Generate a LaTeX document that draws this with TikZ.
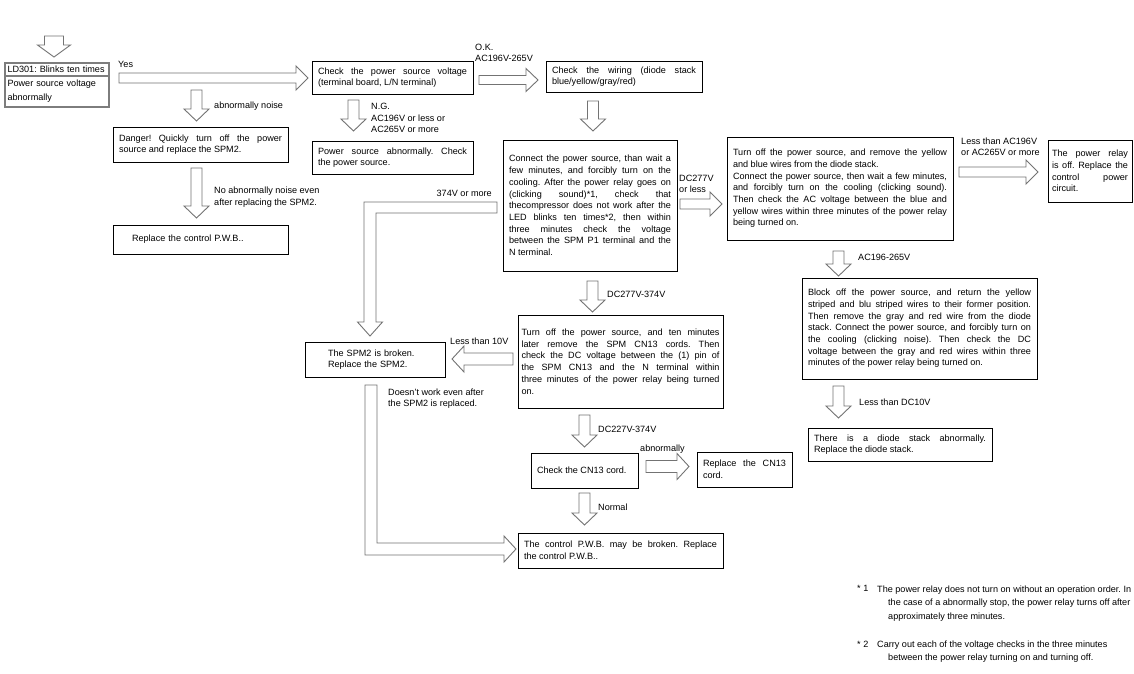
\documentclass[tikz,border=0pt]{standalone}
\usepackage{fontspec}
\setmainfont{Liberation Sans}
\usepackage{xcolor}
\definecolor{ArrowGray}{RGB}{115,115,115}
\definecolor{LdGray}{RGB}{125,125,125}
\usetikzlibrary{positioning,calc}
\frenchspacing

\newcommand{\flowfont}{\fontsize{9.1}{11.7}\selectfont}
\newcommand{\hollowarrow}[3][5.5]{%
  \pgfmathsetmacro{\headhw}{#1+7}%
  \coordinate (ha) at ($(#3)!12pt!(#2)$);
  \draw[hollow] ($(#2)!#1pt!90:(#3)$) -- ($(ha)!#1pt!90:(#3)$)
    -- ($(ha)!\headhw pt!90:(#3)$) -- (#3)
    -- ($(ha)!\headhw pt!-90:(#3)$) -- ($(ha)!#1pt!-90:(#3)$)
    -- ($(#2)!#1pt!-90:(#3)$) -- cycle;
}

\begin{document}
\begin{tikzpicture}[x=1pt, y=-1pt,
    box/.style={rectangle, draw=black, line width=0.9pt, anchor=north west,
                outer sep=0pt, inner xsep=6pt, inner ysep=3pt,
                align=justify, font=\flowfont},
    ldbox/.style={box, draw=LdGray, line width=1.4pt, inner xsep=2.5pt,
                  inner ysep=1pt, align=left},
    hollow/.style={draw=ArrowGray, line width=0.9pt, line join=miter},
    lbl/.style={inner sep=0pt, anchor=west, align=left, font=\flowfont},
    note/.style={inner sep=0pt, anchor=north west, align=left,
                 font=\fontsize{9.1}{13.5}\selectfont}
]
    \fill[white] (0,0) rectangle (1134,673);
    \useasboundingbox (0,0) rectangle (1134,673);

    % left column
    \node[ldbox, text width=99pt, minimum height=13pt] (ldtop) at (5,63) {LD301: Blinks ten times};
    \node[ldbox, text width=99pt, minimum height=31pt, below=0pt of ldtop,
          font=\fontsize{9.1}{14}\selectfont] (ldbot) {Power source voltage\\abnormally};
    \node[box, text width=163pt, minimum height=35pt] (danger) at (113,127)
        {Danger! Quickly turn off the power\linebreak source and replace the SPM2.};
    \node[box, text width=163pt, minimum height=29pt, below=63pt of danger, align=left] (pwb1)
        {\hspace*{13pt}Replace the control P.W.B..};

    % power source check
    \node[box, text width=149pt, minimum height=33pt] (chk) at (312,61)
        {Check the power source voltage\linebreak (terminal board, L/N terminal)};
    \node[box, text width=149pt, minimum height=33pt, below=47pt of chk] (psab)
        {Power source abnormally. Check\linebreak the power source.};
    \node[box, text width=144pt, minimum height=31pt] (wiring) at (546,61)
        {Check the wiring (diode stack\linebreak blue/yellow/gray/red)};
    \node[box, text width=162pt, minimum height=131pt] (main) at (503,140)
        {Connect the power source, than wait a\linebreak
         few minutes, and forcibly turn on the\linebreak
         cooling. After the power relay goes on\linebreak
         (clicking sound)*1, check that\linebreak
         thecompressor does not work after the\linebreak
         LED blinks ten times*2, then within\linebreak
         three minutes check the voltage\linebreak
         between the SPM P1 terminal and the\linebreak
         N terminal.};

    % right column
    \node[box, text width=214pt, minimum height=103pt] (turnoff) at (727,137)
        {Turn off the power source, and remove the yellow\linebreak
         and blue wires from the diode stack.\\
         Connect the power source, then wait a few minutes,\linebreak
         and forcibly turn on the cooling (clicking sound).\linebreak
         Then check the AC voltage between the blue and\linebreak
         yellow wires within three minutes of the power relay\linebreak
         being turned on.};
    \node[box, text width=76pt, inner xsep=4pt, minimum height=62pt] (relay) at (1048,140)
        {The power relay\linebreak is off. Replace the\linebreak control power\linebreak circuit.};
    \node[box, text width=223pt, minimum height=101pt] (blockoff) at (802,278)
        {\parfillskip=0pt
         Block off the power source, and return the yellow\linebreak
         striped and blu striped wires to their former position.\linebreak
         Then remove the gray and red wire from the diode\linebreak
         stack. Connect the power source, and forcibly turn on\linebreak
         the cooling (clicking noise). Then check the DC\linebreak
         voltage between the gray and red wires within three\linebreak
         minutes of the power relay being turned on.};
    \node[box, text width=172pt, minimum height=33pt] (diode) at (808,428)
        {There is a diode stack abnormally.\linebreak Replace the diode stack.};

    % lower middle
    \node[box, text width=198pt, inner xsep=3.5pt, minimum height=93pt] (tenmin) at (518,315)
        {Turn off the power source, and ten minutes\linebreak
         later remove the SPM CN13 cords. Then\linebreak
         check the DC voltage between the (1) pin of\linebreak
         the SPM CN13 and the N terminal within\linebreak
         three minutes of the power relay being turned\linebreak
         on.};
    \node[box, text width=128pt, minimum height=35pt, align=left] (spm2) at (305,342)
        {\hspace*{17pt}The SPM2 is broken.\\\hspace*{17pt}Replace the SPM2.};
    \node[box, text width=95pt, minimum height=35pt] (cn13) at (531,453) {Check the CN13 cord.};
    \node[box, text width=83pt, inner xsep=6pt, minimum height=35pt] (repcn) at (697,452)
        {Replace the CN13\linebreak cord.};
    \node[box, text width=193pt, minimum height=35pt] (pwb2) at (518,533)
        {The control P.W.B. may be broken. Replace\linebreak the control P.W.B..};

    % arrow end points
    \coordinate (in0) at (54,36);
    \coordinate (in1) at ($(in0 |- ldtop.north)+(0,-6)$);
    \coordinate (y1) at ($(ldtop.east)+(10,8.5)$);
    \coordinate (y2) at ($(y1 -| chk.west)+(-4,0)$);
    \coordinate (n1) at ($(danger.north)+(-4,-37)$);
    \coordinate (n2) at ($(danger.north)+(-4,-6)$);
    \coordinate (d1) at ($(danger.south)+(-4,6)$);
    \coordinate (d2) at ($(d1 |- pwb1.north)+(0,-7)$);
    \coordinate (g1) at ($(chk.south)+(-39,6)$);
    \coordinate (g2) at ($(g1 |- psab.north)+(0,-10)$);
    \coordinate (k1) at ($(chk.east)+(6,2.5)$);
    \coordinate (k2) at ($(k1 -| wiring.west)+(-8,0)$);
    \coordinate (w1) at ($(main.north)+(3,-39)$);
    \coordinate (w2) at ($(main.north)+(3,-9)$);
    \coordinate (c1) at ($(main.east)+(3,-1.5)$);
    \coordinate (c2) at ($(c1 -| turnoff.west)+(-5,0)$);
    \coordinate (r1) at ($(turnoff.east)+(6,-16.5)$);
    \coordinate (r2) at ($(r1 -| relay.west)+(-10,0)$);
    \coordinate (a1) at ($(turnoff.south)+(-1.5,11)$);
    \coordinate (a2) at ($(a1 |- blockoff.north)+(0,-2)$);
    \coordinate (e1) at ($(blockoff.south)+(-81,7)$);
    \coordinate (e2) at ($(e1 |- diode.north)+(0,-10)$);
    \coordinate (m1) at ($(main.south)+(2.5,10)$);
    \coordinate (m2) at ($(m1 |- tenmin.north)+(0,-3)$);
    \coordinate (t1) at ($(tenmin.west)+(-5,-2.5)$);
    \coordinate (t2) at ($(t1 -| spm2.east)+(7,0)$);
    \coordinate (v1) at ($(tenmin.south)+(-36,7)$);
    \coordinate (v2) at ($(v1 |- cn13.north)+(0,-6)$);
    \coordinate (b1) at ($(cn13.east)+(8,-4)$);
    \coordinate (b2) at ($(b1 -| repcn.west)+(-8,0)$);
    \coordinate (o1) at ($(cn13.south)+(0,5)$);
    \coordinate (o2) at ($(o1 |- pwb2.north)+(0,-8)$);

    \hollowarrow[9.5]{in0}{in1}
    \hollowarrow[5]{y1}{y2}
    \hollowarrow{n1}{n2}
    \hollowarrow{d1}{d2}
    \hollowarrow{g1}{g2}
    \hollowarrow[4.5]{k1}{k2}
    \hollowarrow{w1}{w2}
    \hollowarrow[5]{c1}{c2}
    \hollowarrow[5]{r1}{r2}
    \hollowarrow{a1}{a2}
    \hollowarrow{e1}{e2}
    \hollowarrow{m1}{m2}
    \hollowarrow[6]{t1}{t2}
    \hollowarrow{v1}{v2}
    \hollowarrow[6]{b1}{b2}
    \hollowarrow{o1}{o2}

    % bent arrows
    \coordinate (s374) at ($(main.west)+(-6,2)$);
    \coordinate (t374) at ($(spm2.north)+(-5,-6)$);
    \coordinate (k374) at (t374 |- s374);
    \draw[hollow] ($(s374)+(0,-5.5)$) -- ($(k374)+(-6,-5.5)$) -- ($(t374)+(-6,-14)$)
        -- ($(t374)+(-12.5,-14)$) -- (t374) -- ($(t374)+(12.5,-14)$)
        -- ($(t374)+(6,-14)$) -- ($(k374)+(6,5.5)$) -- ($(s374)+(0,5.5)$) -- cycle;
    \coordinate (sdw) at ($(spm2.south)+(-4,8)$);
    \coordinate (tdw) at ($(pwb2.west)+(-2,-1.5)$);
    \coordinate (kdw) at (sdw |- tdw);
    \draw[hollow] ($(sdw)+(-6,0)$) -- ($(kdw)+(-6,6)$) -- ($(tdw)+(-12,6)$)
        -- ($(tdw)+(-12,13)$) -- (tdw) -- ($(tdw)+(-12,-13)$)
        -- ($(tdw)+(-12,-6)$) -- ($(kdw)+(6,-6)$) -- ($(sdw)+(6,0)$) -- cycle;

    % labels
    \node[lbl] (lyes) at (118,64) {Yes};
    \node[lbl] (lnoise) at (214,106) {abnormally noise};
    \node[lbl] (lnoab) at (214,197) {No abnormally noise even\\after replacing the SPM2.};
    \node[lbl, font=\fontsize{9.1}{10.5}\selectfont] (lok) at (475,53) {O.K.\\AC196V-265V};
    \node[lbl, font=\fontsize{9.1}{11.5}\selectfont] (lng) at (371,118) {N.G.\\AC196V or less or\\AC265V or more};
    \node[lbl, font=\fontsize{9.1}{11}\selectfont] (ldc) at (679,183.5) {DC277V\\or less};
    \node[lbl, font=\fontsize{9.1}{11}\selectfont] (lac) at (961,146.5) {Less than AC196V\\or AC265V or more};
    \node[lbl, anchor=east] (l374) at (492,193) {374V or more};
    \node[lbl] (ldc2) at (607,294) {DC277V-374V};
    \node[lbl] (lac2) at (858,257) {AC196-265V};
    \node[lbl] (l10) at (450,341) {Less than 10V};
    \node[lbl] (ldc10) at (859,402) {Less than DC10V};
    \node[lbl, font=\fontsize{9.1}{11}\selectfont] (ldoes) at (388,398.5) {Doesn't work even after\\the SPM2 is replaced.};
    \node[lbl] (ldc3) at (598,429) {DC227V-374V};
    \node[lbl] (labn) at (640,449) {abnormally};
    \node[lbl] (lnorm) at (598,507) {Normal};

    % notes
    \node[note] (star1) at (857,585.5) {* 1};
    \node[note] (note1) at (877,585.5)
        {The power relay does not turn on without an operation order. In\\
         \hspace*{11pt}the case of a abnormally stop, the power relay turns off after\\
         \hspace*{11pt}approximately three minutes.};
    \node[note] (star2) at (857,640.5) {* 2};
    \node[note] (note2) at (877,640.5)
        {Carry out each of the voltage checks in the three minutes\\
         \hspace*{11pt}between the power relay turning on and turning off.};
\end{tikzpicture}
\end{document}
